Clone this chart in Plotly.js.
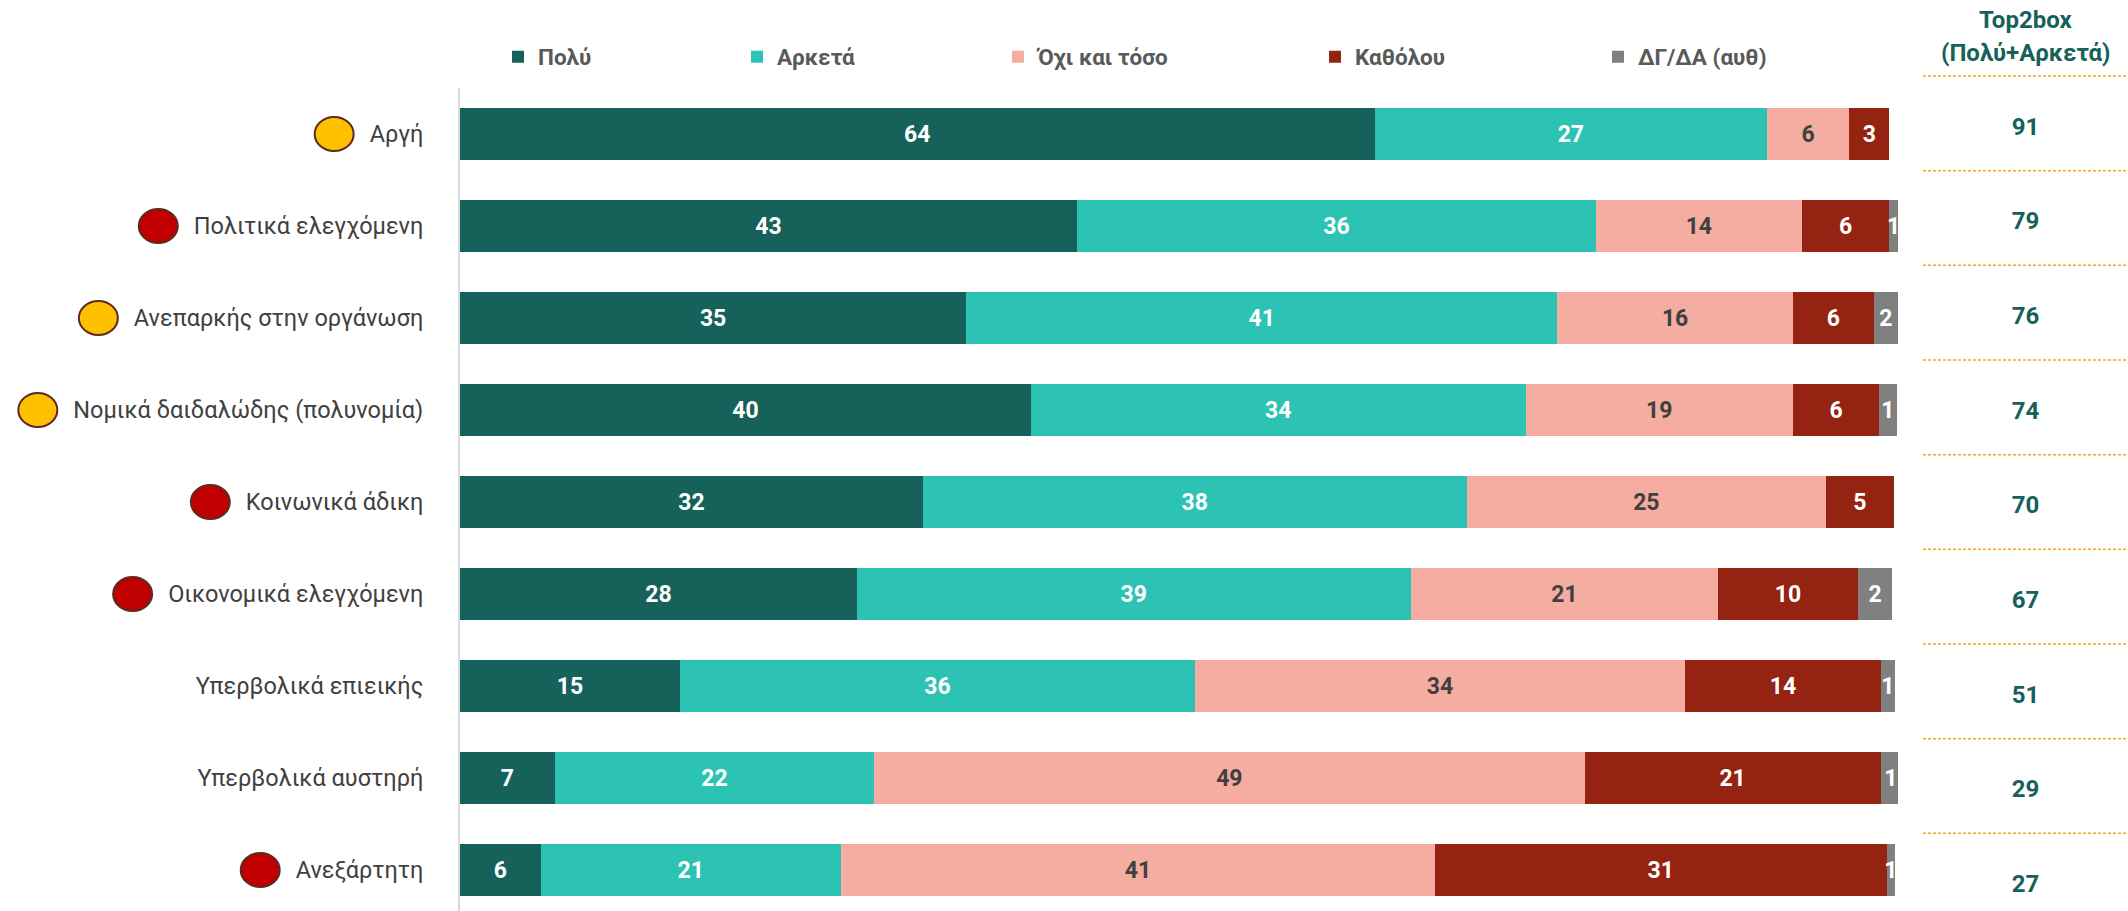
<!DOCTYPE html>
<html>
<head>
<meta charset="utf-8">
<script src="https://cdn.plot.ly/plotly-3.0.1.min.js"></script>
<style>html,body{margin:0;padding:0;background:#fff;}#chart{width:2128px;height:911px;}</style>
</head>
<body>
<div id="chart"></div>
<script>
// ---- data ----
const categories = ['Αργή','Πολιτικά ελεγχόμενη','Ανεπαρκής στην οργάνωση','Νομικά δαιδαλώδης (πολυνομία)','Κοινωνικά άδικη','Οικονομικά ελεγχόμενη','Υπερβολικά επιεικής','Υπερβολικά αυστηρή','Ανεξάρτητη'];
const seriesNames = ['Πολύ','Αρκετά','Όχι και τόσο','Καθόλου','ΔΓ/ΔΑ (αυθ)'];
const polu     = [63.6, 42.9, 35.2, 39.7, 32.2, 27.6, 15.3, 6.6, 5.6];
const arketa   = [27.3, 36.1, 41.1, 34.4, 37.8, 38.5, 35.8, 22.2, 20.9];
const oxi      = [5.7, 14.3, 16.4, 18.6, 25.0, 21.4, 34.1, 49.4, 41.3];
const katholou = [2.8, 6.1, 5.6, 6.0, 4.7, 9.7, 13.6, 20.6, 31.4];
const dkna     = [null, 0.6, 1.7, 1.2, null, 2.4, 1.0, 1.4, 0.6];
const top2box  = [91, 79, 76, 74, 70, 67, 51, 29, 27];
const top2boxHeader = ['Top2box', '(Πολύ+Αρκετά)'];
const status   = ['yellow','red','yellow','yellow','red','red',null,null,'red'];

// ---- styles ----
const FONT = 'Roboto, "DejaVu Sans", sans-serif';
const colors = ['#17615B','#2DC3B4','#F4ADA0','#952312','#808080'];
const textColors = ['#FFFFFF','#FFFFFF','#404040','#FFFFFF','#FFFFFF'];
const statusColors = {yellow:'#FFC000', red:'#C00000'};
const legendX = [498, 737, 998, 1315, 1598]; // px, container
const series = [polu, arketa, oxi, katholou, dkna];
const W = 2128, H = 911;
const ML = 460, MT = 60;

const data = series.map((vals, s) => ({
  type: 'bar', orientation: 'h',
  name: seriesNames[s],
  x: vals, y: categories,
  marker: {color: colors[s]},
  texttemplate: '%{x:.0f}',
  textposition: 'inside', insidetextanchor: 'middle', textangle: 0,
  insidetextfont: {family: FONT, size: 23, color: textColors[s], weight: 'bold'},
  hoverinfo: 'skip',
  legend: s === 0 ? 'legend' : 'legend' + (s + 1),
  xaxis: 'x', yaxis: 'y'
}));

data.push({
  type: 'scatter', mode: 'text',
  x: top2box.map(() => 0.5), y: top2box.map((_, i) => i),
  text: top2box.map(String),
  textfont: {family: FONT, size: 24, color: '#17615B', weight: 'bold'},
  xaxis: 'x2', yaxis: 'y2', showlegend: false, cliponaxis: false, hoverinfo: 'skip'
});

const plotW = W - ML;
const mainTopPx = 88;
const band = 92;
const yDomTop = (H - mainTopPx) / (H - MT);
const yRangeBottom = -0.5 + (H - mainTopPx) / band;

// right-hand Top2box column geometry (px)
const rowStep = 94.67, firstRowPx = 128.5, firstLinePx = 76;
const lineOffset = (firstLinePx - firstRowPx) / rowStep;

const shapes = top2box.map((_, i) => ({
  type: 'line', xref: 'x2', yref: 'y2', x0: 0, x1: 1, y0: i + lineOffset, y1: i + lineOffset,
  line: {color: '#F5A623', width: 1.5, dash: '3px,2px'}
}));

const headerY = [20, 53];
const layout = {
  width: W, height: H,
  margin: {l: ML, r: 0, t: MT, b: 0, pad: 0, autoexpand: false},
  paper_bgcolor: '#FFFFFF', plot_bgcolor: '#FFFFFF',
  barmode: 'stack', bargap: 0.435,
  uniformtext: {mode: 'show', minsize: 23},
  font: {family: FONT, color: '#404040'},
  xaxis: {domain: [0, 1438 / plotW], range: [0, 100], showgrid: false, zeroline: false, showticklabels: false, showline: false, fixedrange: true},
  yaxis: {domain: [0, yDomTop], type: 'category', range: [yRangeBottom, -0.5], showgrid: false, zeroline: false,
          showline: true, linecolor: '#D9D9D9', linewidth: 2, ticks: '', ticklabelstandoff: 30,
          tickfont: {family: FONT, size: 23.5, color: '#404040'}},
  xaxis2: {domain: [(1923 - ML) / plotW, 1], range: [0, 1], visible: false, anchor: 'y2'},
  yaxis2: {domain: [0, 1], range: [(H - firstRowPx) / rowStep, (MT - firstRowPx) / rowStep], visible: false, anchor: 'x2'},
  shapes: shapes,
  annotations: top2boxHeader.map((t, i) => ({
    xref: 'x2', yref: 'paper', x: 0.5, y: (H - headerY[i]) / (H - MT), xanchor: 'center', yanchor: 'middle',
    text: t, showarrow: false, align: 'center',
    font: {family: FONT, size: 24, color: '#17615B', weight: 'bold'}
  })),
  showlegend: true
};
seriesNames.forEach((n, s) => {
  const key = s === 0 ? 'legend' : 'legend' + (s + 1);
  layout[key] = {
    orientation: 'h', xref: 'container', yref: 'container',
    x: legendX[s] / W, y: 1 - 57 / H, xanchor: 'left', yanchor: 'middle',
    font: {family: FONT, size: 22.5, color: '#595959', weight: 'bold'},
    bgcolor: 'rgba(0,0,0,0)', borderwidth: 0
  };
});

const gd = document.getElementById('chart');
Plotly.newPlot(gd, data, layout, {displayModeBar: false, staticPlot: true}).then(function () {
  const rect = gd.getBoundingClientRect();
  const pw = gd._fullLayout._size.w;
  const circles = [];
  gd.querySelectorAll('.yaxislayer-above .ytick text').forEach(function (t) {
    const d = t.__data__;
    const idx = categories.indexOf(d.text);
    if (idx < 0 || !status[idx]) return;
    const r = t.getBoundingClientRect();
    const right = r.left - rect.left - 16;
    const left = right - 39;
    circles.push({
      type: 'circle', xref: 'paper', yref: 'y',
      x0: (left - ML) / pw, x1: (right - ML) / pw,
      y0: idx - 17 / band, y1: idx + 17 / band,
      fillcolor: statusColors[status[idx]],
      line: {color: '#5C2A1E', width: 2}
    });
  });
  return Plotly.relayout(gd, {shapes: shapes.concat(circles)});
});
</script>
</body>
</html>
